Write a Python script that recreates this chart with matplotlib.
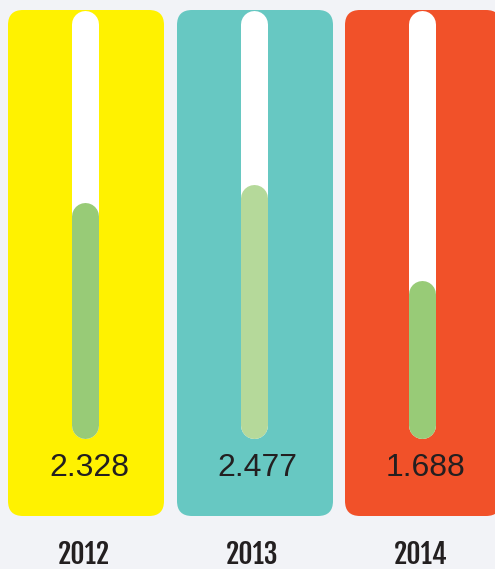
import matplotlib.pyplot as plt
from matplotlib.patches import FancyBboxPatch

years = ["2012", "2013", "2014"]
values = [2.328, 2.477, 1.688]
panel_colors = ["#FFF200", "#67C8C2", "#F15129"]
fill_colors = ["#98CB77", "#B5D99A", "#98CB77"]

# scale of the thermometer tubes
vmin, vmax = 0.4, 3.9

W, H = 495, 569
fig = plt.figure(figsize=(W / 100, H / 100), dpi=100)
fig.patch.set_facecolor("#F2F3F7")

ax = fig.add_axes([0, 0, 1, 1])
ax.set_xlim(0, W)
ax.set_ylim(H, 0)
ax.axis("off")

panel_x = [8, 177, 345]
panel_w = 156
panel_top, panel_bottom = 10, 516
tube_x = [71.5, 240, 408]
tube_w = 27
tube_top, tube_bottom = 10, 438
lw = tube_w * 72 / 100  # tube width in points

for i in range(3):
    ax.add_patch(FancyBboxPatch((panel_x[i], panel_top), panel_w, panel_bottom - panel_top,
                                boxstyle="round,pad=0,rounding_size=15",
                                fc=panel_colors[i], ec="none"))
    ax.text(tube_x[i] + tube_w / 2 + 4, 468, f"{values[i]:.3f}", ha="center", va="center",
            fontsize=23, color="#231F20", family="Liberation Sans")
    ax.text(tube_x[i] + tube_w / 2 - 1, 554, years[i], ha="center", va="center",
            fontsize=20, color="#231F20", family=["Fjalla One", "DejaVu Sans"])

    # tube in value units
    tax = fig.add_axes([tube_x[i] / W, 1 - tube_bottom / H, tube_w / W, (tube_bottom - tube_top) / H])
    tax.set_xlim(0, 1)
    tax.set_ylim(vmin, vmax)
    tax.axis("off")
    r = (tube_w / 2) / ((tube_bottom - tube_top) / (vmax - vmin))  # cap radius in value units
    tax.plot([0.5, 0.5], [vmin + r, vmax - r], color="white", lw=lw,
             solid_capstyle="round", clip_on=False)
    tax.plot([0.5, 0.5], [vmin + r, values[i] - r], color=fill_colors[i], lw=lw,
             solid_capstyle="round", clip_on=False)

fig.savefig("out.png", dpi=100, facecolor=fig.get_facecolor())
